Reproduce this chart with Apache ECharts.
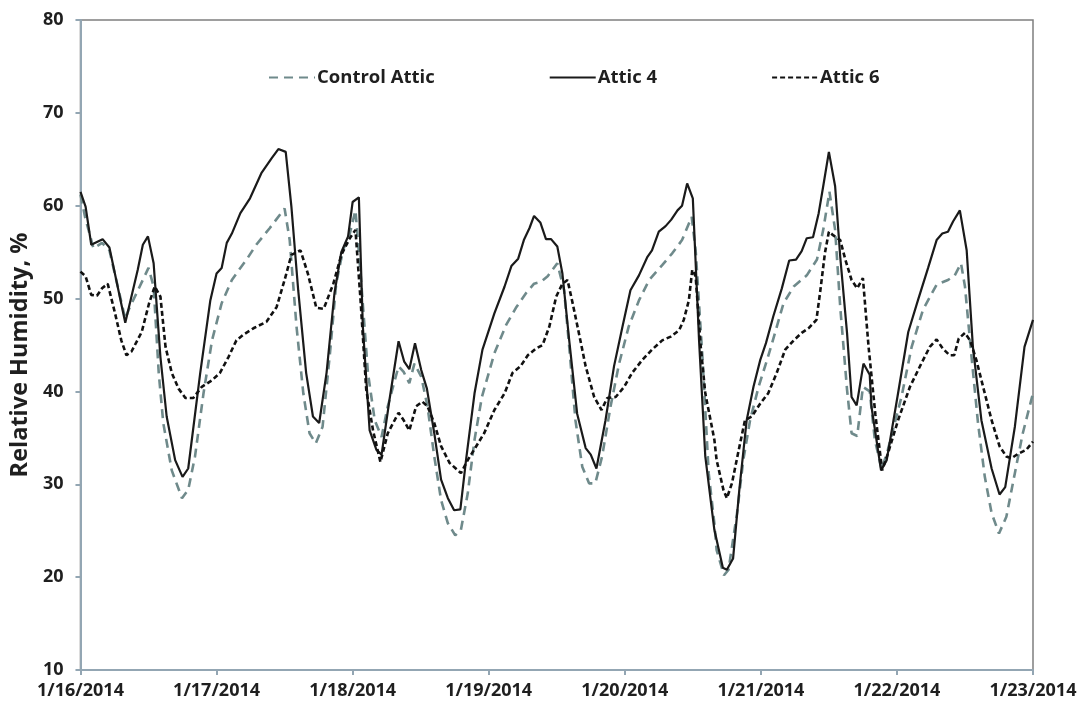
<!DOCTYPE html>
<html>
<head>
<meta charset="utf-8">
<script src="https://cdn.jsdelivr.net/npm/echarts@6/dist/echarts.min.js"></script>
<style>
html,body{margin:0;padding:0;background:#fff;}
#chart{width:1080px;height:706px;}
</style>
</head>
<body>
<div id="chart"></div>
<script>
// x = hours since 1/16/2014 00:00, y = relative humidity (%)
const dateLabels = ['1/16/2014','1/17/2014','1/18/2014','1/19/2014','1/20/2014','1/21/2014','1/22/2014','1/23/2014'];
const yTicks = [10,20,30,40,50,60,70,80];

const controlAttic = [
[0,61.2],[0.8,58.8],[2.3,55.4],[3.8,56.0],[5.1,55.2],[7.9,47.8],[8.5,48.8],[12.0,53.3],[12.9,51.3],
[13.8,42.0],[14.6,36.6],[16.1,31.5],[17.9,28.5],[19.0,29.4],[20.2,33.0],[21.7,39.8],[23.2,45.5],
[24.9,49.5],[26.7,52.0],[28.2,53.3],[29.3,54.2],[31.0,55.8],[33.4,57.6],[36.0,59.7],[36.9,56.3],
[38.1,47.0],[39.3,39.8],[40.4,35.5],[41.5,34.4],[42.7,36.2],[44.0,44.1],[45.1,51.6],[46.3,55.2],
[47.5,57.0],[48.5,59.5],[49.4,52.7],[50.7,42.0],[51.9,36.9],[53.1,35.1],[54.2,38.4],[56.1,42.7],
[57.0,42.1],[58.0,40.9],[58.9,43.0],[60.1,41.6],[61.2,38.4],[62.4,33.0],[63.6,28.3],[64.8,25.8],
[66.1,24.5],[67.1,25.1],[68.3,29.0],[69.5,34.8],[70.8,39.4],[73.0,44.1],[75.1,47.2],[76.8,49.0],
[78.6,50.6],[80.0,51.6],[81.2,51.8],[82.4,52.4],[84.1,53.8],[85.3,50.9],[86.2,44.8],[87.3,36.9],
[88.5,31.9],[89.7,30.1],[90.8,30.1],[92.0,33.0],[93.5,38.4],[95.0,43.0],[96.7,47.0],[98.5,49.8],
[100.3,52.0],[102.6,53.6],[104.4,54.9],[106.1,56.3],[107.8,58.8],[108.5,55.2],[109.7,43.7],[110.8,31.2],
[111.8,25.8],[112.2,22.9],[113.5,20.2],[114.3,20.8],[115.8,26.9],[116.9,32.6],[118.1,36.9],[119.6,40.5],
[121.1,43.4],[122.5,46.3],[124.0,49.5],[125.8,51.3],[128.1,52.5],[129.9,54.2],[131.0,57.4],[132.1,61.5],
[133.1,57.4],[134.0,49.1],[135.2,40.2],[136.0,35.5],[137.0,35.2],[138.0,40.5],[139.2,40.0],[140.1,34.8],
[141.3,31.6],[142.4,33.7],[144.8,39.4],[146.6,44.8],[148.6,48.8],[151.0,51.5],[153.0,52.0],[154.2,52.5],
[155.3,53.8],[156.0,51.3],[157.1,44.1],[158.3,36.6],[159.5,30.8],[160.7,26.9],[162.0,24.7],[163.3,26.5],
[164.8,31.2],[166.2,35.5],[168,39.8]
];

const attic4 = [
[0,61.5],[0.9,59.9],[1.9,55.8],[3.9,56.4],[5.1,55.5],[7.9,47.4],[10.1,53.1],[11.0,55.8],[11.9,56.7],
[12.9,53.8],[14.1,43.7],[15.2,37.3],[16.7,32.6],[18.0,30.8],[19.0,31.7],[21.1,41.9],[22.9,49.8],
[24.0,52.7],[24.9,53.3],[25.8,56.0],[26.7,57.0],[28.2,59.2],[29.9,60.8],[31.9,63.5],[33.7,65.1],
[34.9,66.1],[36.2,65.8],[37.2,59.9],[38.4,50.9],[39.8,42.0],[41.0,37.3],[42.1,36.6],[43.4,42.0],
[44.8,50.6],[46.0,55.0],[47.2,56.7],[48.0,60.4],[49.1,60.9],[49.8,47.0],[51.0,35.8],[52.2,33.7],
[53.1,33.2],[54.5,39.1],[56.1,45.4],[57.1,43.2],[58.0,42.4],[59.0,45.2],[60.1,42.3],[61.1,40.3],
[62.4,35.5],[63.6,30.5],[64.8,28.5],[65.9,27.2],[67.0,27.3],[68.0,32.6],[69.5,39.8],[70.9,44.5],
[73.0,48.4],[74.8,51.3],[76.0,53.5],[77.2,54.3],[78.2,56.3],[79.2,57.6],[80.0,58.9],[81.1,58.2],
[82.1,56.4],[83.0,56.4],[84.1,55.6],[85.0,52.7],[86.2,45.5],[87.6,37.6],[89.1,33.9],[90.0,33.2],
[91.0,31.7],[92.6,36.9],[94.1,42.7],[95.6,47.0],[97.0,50.9],[98.5,52.5],[100.0,54.5],[100.8,55.2],
[102.0,57.2],[103.2,57.8],[104.2,58.5],[105.3,59.5],[106.1,60.0],[107.0,62.4],[108.0,60.8],[109.1,45.5],
[110.2,33.0],[111.8,25.1],[113.3,21.0],[114.0,20.8],[115.1,22.0],[116.2,29.4],[117.5,36.9],[118.7,40.5],
[119.9,43.4],[120.9,45.2],[122.2,48.1],[123.7,51.1],[125.0,54.1],[126.2,54.2],[127.2,55.1],[128.1,56.5],
[129.2,56.6],[130.2,59.2],[131.0,62.1],[132.0,65.8],[133.1,62.1],[134.0,54.5],[135.2,46.3],[136.0,39.4],
[136.9,38.5],[138.1,43.0],[139.2,41.8],[139.5,38.4],[141.2,31.5],[142.2,32.6],[144.2,39.8],[146.0,46.4],
[147.7,49.8],[149.5,53.3],[151.0,56.3],[152.0,57.0],[153.0,57.2],[153.9,58.3],[155.1,59.5],[156.3,55.2],
[157.4,44.8],[158.9,36.9],[160.7,31.7],[162.1,28.9],[163.1,29.7],[164.8,36.2],[166.5,44.8],[168,47.7]
];

const attic6 = [
[0,52.9],[0.9,52.4],[1.9,50.4],[2.9,50.3],[3.8,51.1],[4.8,51.6],[6.1,48.4],[7.2,45.5],[8.1,43.9],
[9.0,44.3],[10.8,46.4],[12.1,49.5],[13.1,51.3],[14.1,50.2],[15.0,44.8],[16.1,42.0],[17.3,40.3],
[18.5,39.3],[19.9,39.3],[21.4,40.5],[23.2,41.2],[24.6,42.0],[26.1,43.7],[27.5,45.5],[28.7,46.1],
[30.5,46.8],[32.8,47.5],[34.6,49.1],[36.0,52.0],[37.2,54.7],[38.8,55.2],[40.1,52.7],[41.6,49.0],
[42.9,48.9],[44.6,51.6],[46.0,54.7],[47.5,56.5],[48.5,57.4],[49.4,49.8],[50.4,40.2],[51.6,35.8],
[52.9,32.4],[54.2,35.5],[56.1,37.7],[57.0,36.9],[58.0,35.8],[59.2,38.4],[60.3,38.9],[61.2,38.4],
[62.4,36.6],[63.6,34.1],[65.1,32.3],[66.2,31.7],[67.1,31.2],[68.3,32.6],[69.8,34.1],[71.2,35.5],
[73.0,38.0],[74.8,39.8],[76.2,42.0],[77.6,42.7],[78.9,43.9],[80.3,44.6],[81.5,45.0],[82.7,47.0],
[83.9,50.2],[85.0,51.6],[85.9,52.0],[86.7,49.8],[87.9,46.3],[89.1,42.7],[90.6,39.4],[91.9,38.0],
[92.9,39.3],[94.4,39.4],[95.9,40.5],[97.3,42.0],[99.1,43.4],[100.8,44.5],[102.6,45.5],[104.1,45.9],
[105.6,46.6],[106.4,47.7],[107.3,49.8],[107.9,53.1],[108.5,52.4],[109.4,44.8],[110.2,39.8],[111.8,34.8],
[112.2,32.6],[113.4,29.4],[114.0,28.5],[114.9,30.1],[116.1,33.7],[117.2,36.9],[118.4,37.3],[119.9,38.7],
[121.3,39.8],[122.8,42.0],[124.3,44.5],[125.8,45.5],[127.2,46.3],[128.4,46.8],[129.8,47.7],[130.5,50.9],
[131.3,54.9],[132.0,57.2],[132.8,56.8],[134.0,56.3],[134.9,54.2],[136.0,52.0],[137.0,51.1],[138.0,52.2],
[139.0,44.8],[140.2,37.5],[141.4,31.5],[142.4,33.3],[144.2,36.9],[146.3,40.5],[148.3,43.0],[149.8,44.8],
[151.0,45.6],[152.1,44.6],[153.3,43.9],[154.1,43.9],[154.9,45.7],[156.0,46.3],[156.9,45.5],[158.0,43.4],
[159.2,40.5],[160.7,36.9],[162.1,34.1],[163.3,33.0],[164.2,32.8],[165.4,33.3],[166.8,33.7],[168,34.6]
];

const chart = echarts.init(document.getElementById('chart'), null, {renderer: 'canvas'});
const FONT = '"Open Sans", "DejaVu Sans", sans-serif';
const axisBlue = '#93a6b3';

chart.setOption({
  animation: false,
  backgroundColor: '#ffffff',
  textStyle: {fontFamily: FONT},
  grid: {left: 80, right: 47, top: 20, bottom: 36, show: true, borderColor: '#7f7f7f', borderWidth: 1.5, backgroundColor: 'transparent'},
  legend: {
    left: 263, top: 63,
    itemWidth: 46, itemHeight: 14, itemGap: 114,
    itemStyle: {opacity: 0},
    textStyle: {fontFamily: FONT, fontWeight: 'bold', fontSize: 18.5, color: '#1f1f1f', padding: [0, 0, 0, -3]},
    data: ['Control Attic', 'Attic 4', 'Attic 6']
  },
  xAxis: {
    type: 'value', min: 0, max: 168, interval: 24,
    axisLine: {show: true, lineStyle: {color: axisBlue, width: 2}},
    axisTick: {show: true, inside: false, length: 5, lineStyle: {color: axisBlue, width: 2}},
    splitLine: {show: false},
    axisLabel: {
      margin: 12, fontFamily: FONT, fontWeight: 'bold', fontSize: 18, color: '#1f1f1f',
      formatter: function (v) { return dateLabels[Math.round(v / 24)] || ''; }
    }
  },
  yAxis: {
    type: 'value', min: yTicks[0], max: yTicks[yTicks.length - 1], interval: 10,
    name: 'Relative Humidity, %', nameLocation: 'middle', nameGap: 48,
    nameTextStyle: {fontFamily: FONT, fontWeight: 'bold', fontSize: 23.5, color: '#1f1f1f', padding: [0, 20, 0, 0]},
    axisLine: {show: true, lineStyle: {color: axisBlue, width: 2}},
    axisTick: {show: true, inside: false, length: 5, lineStyle: {color: axisBlue, width: 2}},
    splitLine: {show: false},
    axisLabel: {margin: 17, fontFamily: FONT, fontWeight: 'bold', fontSize: 18, color: '#1f1f1f'}
  },
  series: [
    {name: 'Control Attic', type: 'line', data: controlAttic, showSymbol: false, symbol: 'none',
     itemStyle: {color: '#6f8a8b'},
     lineStyle: {color: '#6f8a8b', width: 2.6, type: [9, 6]}},
    {name: 'Attic 4', type: 'line', data: attic4, showSymbol: false, symbol: 'none',
     itemStyle: {color: '#1a1a1a'},
     lineStyle: {color: '#1a1a1a', width: 2.2, type: 'solid'}},
    {name: 'Attic 6', type: 'line', data: attic6, showSymbol: false, symbol: 'none',
     itemStyle: {color: '#111111'},
     lineStyle: {color: '#111111', width: 2.6, type: [5, 3]}}
  ]
});
</script>
</body>
</html>
